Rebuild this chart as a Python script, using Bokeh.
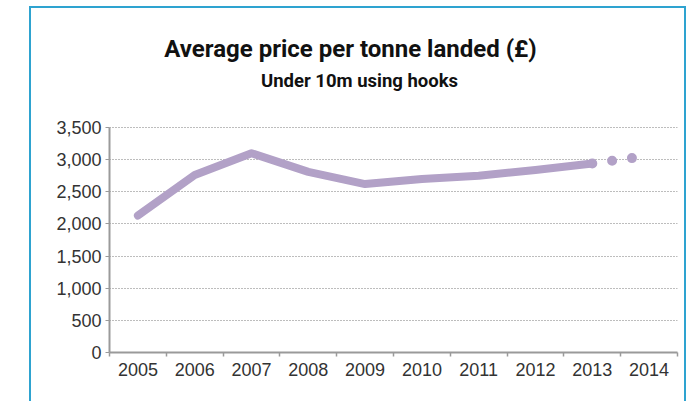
from bokeh.plotting import figure
from bokeh.models import FixedTicker, NumeralTickFormatter, Label, Range1d
from bokeh.embed import file_html
from bokeh.resources import INLINE

# ---- data ----
years = [2005, 2006, 2007, 2008, 2009, 2010, 2011, 2012, 2013, 2014]
price = [2130, 2760, 3100, 2810, 2620, 2700, 2750, 2840, 2940, 3060]
y_ticks = [0, 500, 1000, 1500, 2000, 2500, 3000, 3500]
title_text = "Average  price per tonne landed (£)"
subtitle_text = "Under 10m using hooks"

LINE_COLOR = "#b2a1c7"
AXIS_COLOR = "#9a9a9a"
BORDER_COLOR = "#2ea3d0"
TITLE_FONT = "Roboto"

# layout geometry (pixels): frame spans from canvas top to the x axis,
# the axis itself is bounded to the 0..3500 scale
FRAME_H = 344          # canvas top to x axis
AXIS_H = 225           # x axis to 3,500 gridline
y_top = y_ticks[-1] * FRAME_H / AXIS_H

p = figure(width=657, height=395, output_backend="svg", toolbar_location=None,
           x_range=Range1d(years[0] - 0.5, years[-1] + 0.5),
           y_range=Range1d(y_ticks[0], y_top),
           min_border_left=78, min_border_right=11, min_border_top=0, min_border_bottom=51)
p.styles = {"margin-left": "29px", "margin-top": "6px",
            "border-left": f"2px solid {BORDER_COLOR}",
            "border-right": f"2px solid {BORDER_COLOR}",
            "border-top": f"2px solid {BORDER_COLOR}"}
p.outline_line_color = None

# main solid line (actual values)
p.line(years[:-1], price[:-1], line_color=LINE_COLOR, line_width=8,
       line_cap="round", line_join="round")
# dotted projection to last year
p.line(years[-2:], price[-2:], line_color=LINE_COLOR, line_width=10,
       line_cap="round", line_dash="0 20")

# axes
minor = [y - 0.5 for y in years] + [years[-1] + 0.5]
p.xaxis.ticker = FixedTicker(ticks=years, minor_ticks=minor)
p.xaxis.major_tick_line_color = None
p.xaxis.minor_tick_in = 0
p.xaxis.minor_tick_out = 4
p.xaxis.minor_tick_line_color = AXIS_COLOR
p.xaxis.minor_tick_line_width = 1.5
p.xaxis.major_label_standoff = 4

p.yaxis.ticker = FixedTicker(ticks=y_ticks, minor_ticks=[])
p.yaxis.bounds = (y_ticks[0], y_ticks[-1])
p.yaxis.formatter = NumeralTickFormatter(format="0,0")
p.yaxis.major_tick_in = 0
p.yaxis.major_tick_out = 4
p.yaxis.major_tick_line_color = AXIS_COLOR
p.yaxis.major_label_standoff = 4

for ax in (p.xaxis, p.yaxis):
    ax.axis_line_color = AXIS_COLOR
    ax.axis_line_width = 2
    ax.major_label_text_font = "Liberation Sans"
    ax.major_label_text_font_size = "18px"
    ax.major_label_text_color = "#333333"

p.xgrid.grid_line_color = None
p.ygrid.ticker = FixedTicker(ticks=y_ticks[1:])
p.ygrid.grid_line_color = "#7a7a7a"
p.ygrid.grid_line_dash = "1 2"
p.ygrid.grid_line_width = 1

# titles (screen units relative to the plot frame)
p.add_layout(Label(x=244, y=304, x_units="screen", y_units="screen", text=title_text,
                   text_align="center", text_baseline="alphabetic",
                   text_font=TITLE_FONT,
                   text_font_style="bold", text_font_size="24px", text_color="#111111"))
p.add_layout(Label(x=250, y=272, x_units="screen", y_units="screen", text=subtitle_text,
                   text_align="center", text_baseline="alphabetic",
                   text_font=TITLE_FONT,
                   text_font_style="bold", text_font_size="18.5px", text_color="#111111"))

open("out.html", "w").write(file_html(p, INLINE))
